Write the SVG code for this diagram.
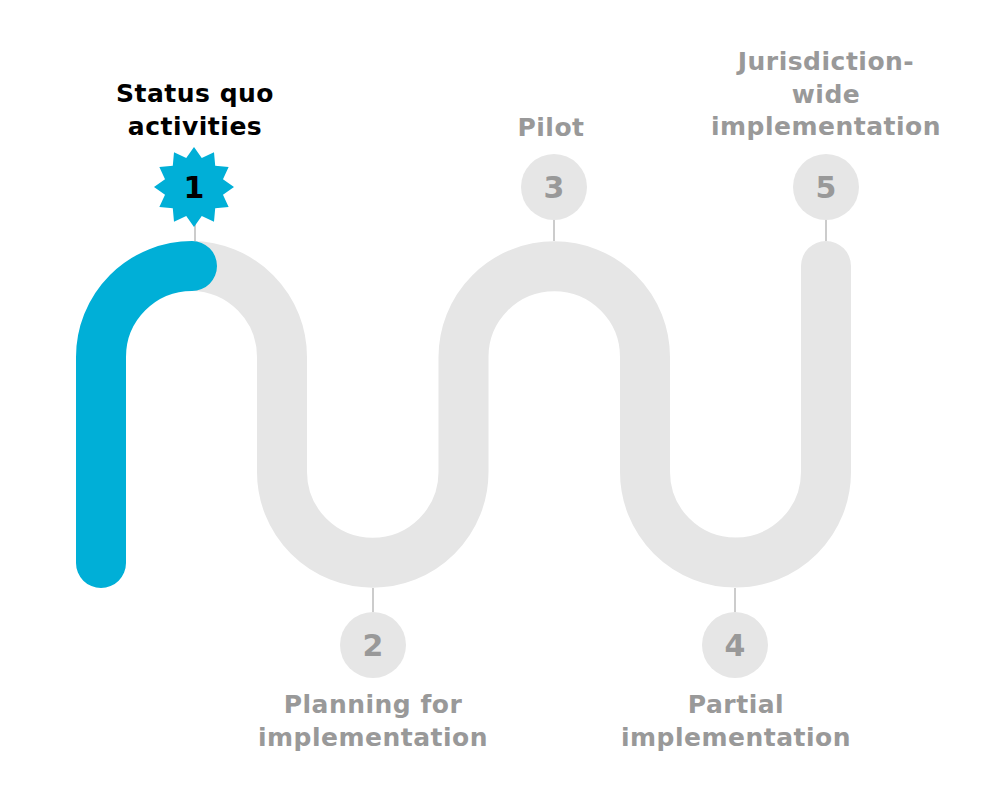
<svg xmlns="http://www.w3.org/2000/svg" width="1000" height="800" viewBox="0 0 1000 800">
<style>
.lbl{font-family:"DejaVu Sans","Liberation Sans",sans-serif;font-weight:bold;font-size:25px;letter-spacing:0.5px;text-anchor:middle;fill:#999999}
.lbl.active{fill:#000000}
.num{font-family:"DejaVu Sans","Liberation Sans",sans-serif;font-weight:bold;font-size:30px;text-anchor:middle;fill:#999999}
.num.active{fill:#000000}
.dot{fill:#e6e6e6}
.tick{stroke:#cccccc;stroke-width:2;fill:none}
</style>
<rect width="1000" height="800" fill="#ffffff"/>
<g id="connectors">
  <path d="M192,266 A91,91 0 0 1 282,357 V472 A90.75,90.75 0 0 0 463.5,472 V357 A90.75,90.75 0 0 1 645,357 V472 A90.5,90.5 0 0 0 826,472 V266" fill="none" stroke="#e6e6e6" stroke-width="50" stroke-linecap="round"/>
  <path d="M101,563 V357 A91,91 0 0 1 192,266" fill="none" stroke="#00afd7" stroke-width="50" stroke-linecap="round"/>
  <line class="tick" x1="195" y1="224" x2="195" y2="241"/>
  <line class="tick" x1="554" y1="219" x2="554" y2="241"/>
  <line class="tick" x1="826" y1="219" x2="826" y2="241"/>
  <line class="tick" x1="373" y1="588" x2="373" y2="612"/>
  <line class="tick" x1="735" y1="588" x2="735" y2="612"/>
</g>
<g id="node1">
  <polygon fill="#00afd7" points="194,147 201.76,158.02 214,152.36 215.21,165.79 228.64,167 222.98,179.24 234,187 222.98,194.76 228.64,207 215.21,208.21 214,221.64 201.76,215.98 194,227 186.24,215.98 174,221.64 172.79,208.21 159.36,207 165.02,194.76 154,187 165.02,179.24 159.36,167 172.79,165.79 174,152.36 186.24,158.02"/>
  <text class="num active" x="194" y="198">1</text>
  <text class="lbl active" x="195" y="102">Status quo</text>
  <text class="lbl active" x="195" y="135">activities</text>
</g>
<g id="node2">
  <circle class="dot" cx="373" cy="645" r="33"/>
  <text class="num" x="373" y="656">2</text>
  <text class="lbl" x="373" y="713">Planning for</text>
  <text class="lbl" x="373" y="746">implementation</text>
</g>
<g id="node3">
  <circle class="dot" cx="554" cy="187" r="33"/>
  <text class="num" x="554" y="198">3</text>
  <text class="lbl" x="551" y="136">Pilot</text>
</g>
<g id="node4">
  <circle class="dot" cx="735" cy="645" r="33"/>
  <text class="num" x="735" y="656">4</text>
  <text class="lbl" x="736" y="713">Partial</text>
  <text class="lbl" x="736" y="746">implementation</text>
</g>
<g id="node5">
  <circle class="dot" cx="826" cy="187" r="33"/>
  <text class="num" x="826" y="198">5</text>
  <text class="lbl" x="826" y="70">Jurisdiction-</text>
  <text class="lbl" x="826" y="102.5">wide</text>
  <text class="lbl" x="826" y="135">implementation</text>
</g>
</svg>
